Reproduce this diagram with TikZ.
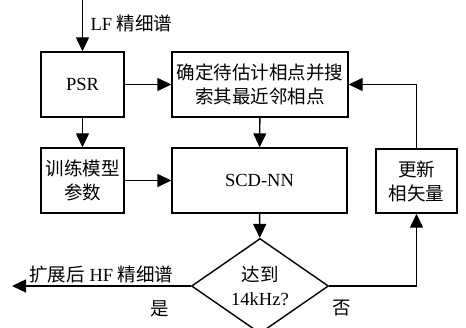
\documentclass[tikz,border=0pt]{standalone}
\usepackage{fontspec}
\setmainfont{Liberation Serif}
\newfontfamily\cjk{Noto Sans CJK SC}
\newcommand{\zh}[1]{{\cjk #1}}
\usetikzlibrary{arrows.meta,positioning,shapes.geometric}

\begin{document}
\begin{tikzpicture}[
  x=1pt,y=-1pt,
  font=\fontsize{18.5}{24}\selectfont,
  blk/.style={draw,line width=1.4pt,align=center,inner sep=0pt,minimum height=65pt},
  dec/.style={draw,diamond,aspect=1.44,line width=1.4pt,align=center,inner sep=0pt,minimum width=137pt,minimum height=95pt},
  arr/.style={-{Triangle[length=14pt,width=13pt]},line width=1.4pt}]
  \useasboundingbox (0,0) rectangle (466,328);
  % boxes
  \node[blk,minimum width=83pt] (psr) at (82.5,84.5) {PSR};
  \node[blk,minimum width=176pt] (est) at (260,84.5) {\zh{确定待估计相点并搜}\\\zh{索其最近邻相点}};
  \node[blk,minimum width=83pt] (train) at (82.5,180.5) {\zh{训练模型}\\\zh{参数}};
  \node[blk,minimum width=175pt] (scd) at (259.5,180.5) {SCD-NN};
  \node[blk,minimum width=81pt,minimum height=64pt] (upd) at (416.5,181) {\zh{更新}\\\zh{相矢量}};
  \node[dec] (check) at (260,286) {\zh{达到}\\14kHz?};
  % free ends
  \coordinate (in) at (82.5,0);
  \coordinate (out) at (12,286);
  % labels
  \node[anchor=west] (inlbl) at (87,23) {LF \zh{精细谱}};
  \node (yes) at (160,309) {\zh{是}};
  \node (no) at (342,308) {\zh{否}};
  % connectors
  \draw[arr] (in) -- (psr);
  \draw[arr] (psr) -- (est);
  \draw[arr] (psr) -- (train);
  \draw[arr] (train) -- (scd);
  \draw[arr] (est) -- (scd);
  \draw[arr] (scd) -- (check);
  \draw[arr] (check.east) -| (upd.south);
  \draw[arr] (upd.north) |- (est.east);
  \draw[arr] (check.west) -- (out) node[midway,above,inner sep=2pt] (outlbl) {\zh{扩展后} HF \zh{精细谱}};
\end{tikzpicture}
\end{document}
